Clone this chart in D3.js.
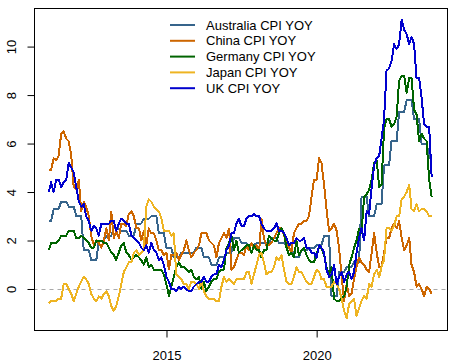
<!DOCTYPE html>
<html>
<head>
<meta charset="utf-8">
<script src="https://cdn.jsdelivr.net/npm/d3@7"></script>
<style>
  body { margin: 0; background: #fff; }
  svg { font-family: "Liberation Sans", Arial, sans-serif; }
</style>
</head>
<body>
<div id="canvas"></div>
<script>
// monthly observations, Jan 2011 .. Oct 2023
const startYear = 2011;

const australia = [
  2.8, 2.8, 3.3, 3.3, 3.3, 3.6, 3.6, 3.6, 3.4, 3.4, 3.4, 3.0,
  3.0, 3.0, 1.6, 1.6, 1.6, 1.2, 1.2, 1.2, 2.0, 2.0, 2.0, 2.2,
  2.2, 2.2, 2.5, 2.5, 2.5, 2.4, 2.4, 2.4, 2.2, 2.2, 2.2, 2.7,
  2.7, 2.7, 2.9, 2.9, 2.9, 3.0, 3.0, 3.0, 2.3, 2.3, 2.3, 1.7,
  1.7, 1.7, 1.3, 1.3, 1.3, 1.5, 1.5, 1.5, 1.5, 1.5, 1.5, 1.7,
  1.7, 1.7, 1.3, 1.3, 1.3, 1.0, 1.0, 1.0, 1.3, 1.3, 1.3, 1.5,
  1.5, 1.5, 2.1, 2.1, 2.1, 1.9, 1.9, 1.9, 1.8, 1.8, 1.8, 1.9,
  1.9, 1.9, 1.9, 1.9, 1.9, 2.1, 2.1, 2.1, 1.9, 1.9, 1.9, 1.8,
  1.8, 1.8, 1.3, 1.3, 1.3, 1.6, 1.6, 1.6, 1.7, 1.7, 1.7, 1.8,
  1.8, 1.8, 2.2, 2.2, 2.2, -0.3, -0.3, -0.3, 0.7, 0.7, 0.7, 0.9,
  0.9, 0.9, 1.1, 1.1, 1.1, 3.8, 3.8, 3.8, 3.0, 3.0, 3.0, 3.5,
  3.5, 3.5, 5.1, 5.1, 5.1, 6.1, 6.1, 6.1, 7.3, 7.3, 7.3, 7.8,
  7.8, 7.8, 7.0, 7.0, 7.0, 6.0, 6.0, 6.0, 5.4, 5.4
];

const china = [
  4.9, 4.9, 5.4, 5.3, 5.5, 6.4, 6.5, 6.2, 6.1, 5.5, 4.2, 4.1,
  4.5, 3.2, 3.6, 3.4, 3.0, 2.2, 1.8, 2.0, 1.9, 1.7, 2.0, 2.5,
  2.0, 3.2, 2.1, 2.4, 2.1, 2.7, 2.7, 2.6, 3.1, 3.2, 3.0, 2.5,
  2.5, 2.0, 2.4, 1.8, 2.5, 2.3, 2.3, 2.0, 1.6, 1.6, 1.4, 1.5,
  0.8, 1.4, 1.4, 1.5, 1.2, 1.4, 1.6, 2.0, 1.6, 1.3, 1.5, 1.6,
  1.8, 2.3, 2.3, 2.3, 2.0, 1.9, 1.8, 1.3, 1.9, 2.1, 2.3, 2.1,
  2.5, 0.8, 0.9, 1.2, 1.5, 1.5, 1.4, 1.8, 1.6, 1.9, 1.7, 1.8,
  1.5, 2.9, 2.1, 1.8, 1.8, 1.9, 2.1, 2.3, 2.5, 2.5, 2.2, 1.9,
  1.7, 1.5, 2.3, 2.5, 2.7, 2.7, 2.8, 2.8, 3.0, 3.8, 4.5, 4.5,
  5.4, 5.2, 4.3, 3.3, 2.4, 2.5, 2.7, 2.4, 1.7, 0.5, -0.5, 0.2,
  -0.3, -0.2, 0.4, 0.9, 1.3, 1.1, 1.0, 0.8, 0.7, 1.5, 2.3, 1.5,
  0.9, 0.9, 1.5, 2.1, 2.1, 2.5, 2.7, 2.5, 2.8, 2.1, 1.6, 1.8,
  2.1, 1.0, 0.7, 0.1, 0.2, 0.0, -0.3, 0.1, 0.0, -0.2
];

const germany = [
  1.6, 1.9, 1.9, 1.9, 2.0, 2.2, 2.2, 2.2, 2.4, 2.4, 2.4, 2.1,
  2.1, 2.2, 2.1, 2.0, 1.9, 1.7, 1.7, 2.0, 2.0, 2.0, 1.9, 1.9,
  1.7, 1.5, 1.4, 1.2, 1.5, 1.8, 1.9, 1.5, 1.4, 1.2, 1.3, 1.4,
  1.3, 1.2, 1.0, 1.3, 0.9, 1.0, 0.8, 0.8, 0.8, 0.8, 0.6, 0.2,
  -0.3, 0.1, 0.5, 0.9, 1.1, 0.9, 0.9, 0.8, 0.7, 0.8, 0.5, 0.4,
  0.5, 0.0, 0.3, -0.1, 0.1, 0.3, 0.4, 0.4, 0.7, 0.8, 0.8, 1.7,
  1.9, 2.2, 1.6, 2.0, 1.5, 1.6, 1.7, 1.8, 1.8, 1.5, 1.8, 1.6,
  1.6, 1.3, 1.6, 1.6, 2.2, 2.1, 2.0, 2.0, 2.3, 2.5, 2.3, 1.7,
  1.4, 1.5, 1.3, 2.0, 1.4, 1.6, 1.7, 1.4, 1.2, 1.1, 1.1, 1.5,
  1.7, 1.7, 1.4, 0.9, 0.6, 0.9, -0.4, -0.5, -0.5, -0.4, -0.3, 0.1,
  1.0, 1.3, 1.7, 2.0, 2.5, 2.3, 3.8, 3.9, 4.1, 4.5, 5.2, 5.3,
  4.2, 4.3, 6.6, 7.0, 7.0, 6.7, 6.8, 7.1, 8.6, 8.8, 8.8, 8.1,
  8.7, 8.7, 7.4, 7.2, 6.1, 6.4, 6.2, 6.1, 4.5, 3.8
];

const japan = [
  -0.6, -0.5, -0.5, -0.5, -0.4, -0.4, 0.2, 0.2, 0.0, -0.2, -0.5, -0.2,
  0.1, 0.3, 0.5, 0.4, 0.2, -0.2, -0.4, -0.5, -0.3, -0.4, -0.2, -0.1,
  -0.3, -0.7, -0.9, -0.7, -0.3, 0.2, 0.7, 0.9, 1.1, 1.1, 1.5, 1.6,
  1.4, 1.5, 1.6, 3.4, 3.7, 3.6, 3.4, 3.3, 3.2, 2.9, 2.4, 2.4,
  2.4, 2.2, 2.3, 0.6, 0.5, 0.4, 0.2, 0.2, 0.0, 0.3, 0.3, 0.2,
  0.0, 0.3, -0.1, -0.3, -0.4, -0.4, -0.4, -0.5, -0.5, 0.1, 0.5, 0.3,
  0.4, 0.3, 0.2, 0.4, 0.4, 0.4, 0.4, 0.7, 0.7, 0.2, 0.6, 1.0,
  1.4, 1.5, 1.1, 0.6, 0.7, 0.7, 0.9, 1.3, 1.2, 1.4, 0.8, 0.3,
  0.2, 0.2, 0.5, 0.9, 0.7, 0.7, 0.5, 0.3, 0.2, 0.2, 0.5, 0.8,
  0.7, 0.4, 0.4, 0.1, 0.1, 0.1, 0.3, 0.2, 0.0, -0.4, -0.9, -1.2,
  -0.6, -0.5, -0.4, -1.1, -0.8, -0.5, -0.3, -0.4, 0.2, 0.1, 0.6, 0.8,
  0.5, 0.9, 1.2, 2.5, 2.5, 2.4, 2.6, 3.0, 3.0, 3.7, 3.8, 4.0,
  4.3, 3.3, 3.2, 3.5, 3.2, 3.3, 3.3, 3.2, 3.0, 3.0
];

const uk = [
  4.0, 4.4, 4.0, 4.5, 4.5, 4.2, 4.4, 4.5, 5.2, 5.0, 4.8, 4.2,
  3.6, 3.4, 3.5, 3.0, 2.8, 2.4, 2.6, 2.5, 2.2, 2.7, 2.7, 2.7,
  2.7, 2.8, 2.8, 2.4, 2.7, 2.9, 2.8, 2.7, 2.7, 2.2, 2.1, 2.0,
  1.9, 1.7, 1.6, 1.8, 1.5, 1.9, 1.6, 1.5, 1.2, 1.3, 1.0, 0.5,
  0.3, 0.0, 0.0, -0.1, 0.1, 0.0, 0.1, 0.0, -0.1, -0.1, 0.1, 0.2,
  0.3, 0.3, 0.5, 0.3, 0.3, 0.5, 0.6, 0.6, 1.0, 0.9, 1.2, 1.6,
  1.8, 2.3, 2.3, 2.7, 2.9, 2.6, 2.6, 2.9, 3.0, 3.0, 3.1, 3.0,
  3.0, 2.7, 2.5, 2.4, 2.4, 2.4, 2.5, 2.7, 2.4, 2.4, 2.3, 2.1,
  1.8, 1.9, 1.9, 2.1, 2.0, 2.0, 2.1, 1.7, 1.7, 1.5, 1.5, 1.3,
  1.8, 1.7, 1.5, 0.8, 0.5, 0.6, 1.0, 0.2, 0.5, 0.7, 0.3, 0.6,
  0.7, 0.4, 0.7, 1.5, 2.1, 2.5, 2.0, 3.2, 3.1, 4.2, 5.1, 5.4,
  5.5, 6.2, 7.0, 9.0, 9.1, 9.4, 10.1, 9.9, 10.1, 11.1, 10.7, 10.5,
  10.1, 10.4, 10.1, 8.7, 8.7, 7.9, 6.8, 6.7, 6.7, 4.6
];

const seriesNames = ["Australia CPI YOY", "China CPI YOY", "Germany CPI YOY", "Japan CPI YOY", "UK CPI YOY"];
const seriesValues = [australia, china, germany, japan, uk];
const seriesColors = ["#36648B", "#CD6600", "#006400", "#EEB422", "#0000CD"];

const xTickYears = [2015, 2020];
const yTicks = [0, 2, 4, 6, 8, 10];

const width = 452, height = 363;
const plot = { left: 33.5, right: 447, top: 8, bottom: 330 };

// month-end dates
const dates = australia.map((d, i) => new Date(startYear, i + 1, 0));

const svg = d3.select("#canvas").append("svg")
  .attr("width", width)
  .attr("height", height);

// R style 4% padding on both axes
const tExt = d3.extent(dates);
const tPad = (tExt[1] - tExt[0]) * 0.04;
const x = d3.scaleTime()
  .domain([new Date(+tExt[0] - tPad), new Date(+tExt[1] + tPad)])
  .range([plot.left, plot.right]);

const allVals = seriesValues.flat();
const yMin = d3.min(allVals), yMax = d3.max(allVals);
const yPad = (yMax - yMin) * 0.04;
const y = d3.scaleLinear()
  .domain([yMin - yPad, yMax + yPad])
  .range([plot.bottom, plot.top]);

// zero reference line
svg.append("line")
  .attr("x1", plot.left).attr("x2", plot.right)
  .attr("y1", Math.round(y(0)) + 0.5).attr("y2", Math.round(y(0)) + 0.5)
  .attr("stroke", "#A9A9A9")
  .attr("stroke-width", 1)
  .attr("stroke-dasharray", "4,4");

const line = d3.line()
  .x((d, i) => x(dates[i]))
  .y(d => y(d));

svg.selectAll("path.series")
  .data(seriesValues)
  .enter().append("path")
  .attr("class", "series")
  .attr("d", line)
  .attr("fill", "none")
  .attr("stroke", (d, i) => seriesColors[i])
  .attr("stroke-width", 2)
  .attr("stroke-linejoin", "round")
  .attr("shape-rendering", "crispEdges");

// box
svg.append("rect")
  .attr("x", 34.5).attr("y", 8.5)
  .attr("width", 413).attr("height", 322)
  .attr("fill", "none")
  .attr("stroke", "#000")
  .attr("stroke-width", 1);

// y axis
const yAxis = svg.append("g")
  .attr("transform", "translate(34.5,0)")
  .call(d3.axisLeft(y).tickValues(yTicks).tickSize(7).tickFormat(d3.format("d")));
yAxis.select(".domain").remove();
yAxis.selectAll(".tick line").attr("stroke", "#000");
yAxis.selectAll(".tick text")
  .attr("x", null).attr("dy", null)
  .attr("transform", "translate(-18.5,0) rotate(-90)")
  .attr("text-anchor", "middle")
  .attr("fill", "#000")
  .style("font-size", "13px")
  .style("font-family", "'Liberation Sans', Arial, sans-serif");

// x axis
const xAxis = svg.append("g")
  .attr("transform", "translate(0,330.5)")
  .call(d3.axisBottom(x)
    .tickValues(xTickYears.map(yr => new Date(yr, 0, 1)))
    .tickSize(7)
    .tickFormat(d3.timeFormat("%Y")));
xAxis.select(".domain").remove();
xAxis.selectAll(".tick line").attr("stroke", "#000");
xAxis.selectAll(".tick text")
  .attr("y", 29).attr("dy", null)
  .attr("fill", "#000")
  .style("font-size", "13px")
  .style("font-family", "'Liberation Sans', Arial, sans-serif");

// legend
const legend = svg.append("g");
const rows = legend.selectAll("g")
  .data(seriesNames)
  .enter().append("g")
  .attr("transform", (d, i) => `translate(0,${25 + i * 15.8})`);
rows.append("line")
  .attr("x1", 170).attr("x2", 195)
  .attr("y1", 0).attr("y2", 0)
  .attr("stroke", (d, i) => seriesColors[i])
  .attr("stroke-width", 2);
rows.append("text")
  .attr("x", 206).attr("y", 4.6)
  .style("font-size", "13px")
  .text(d => d);
</script>
</body>
</html>
